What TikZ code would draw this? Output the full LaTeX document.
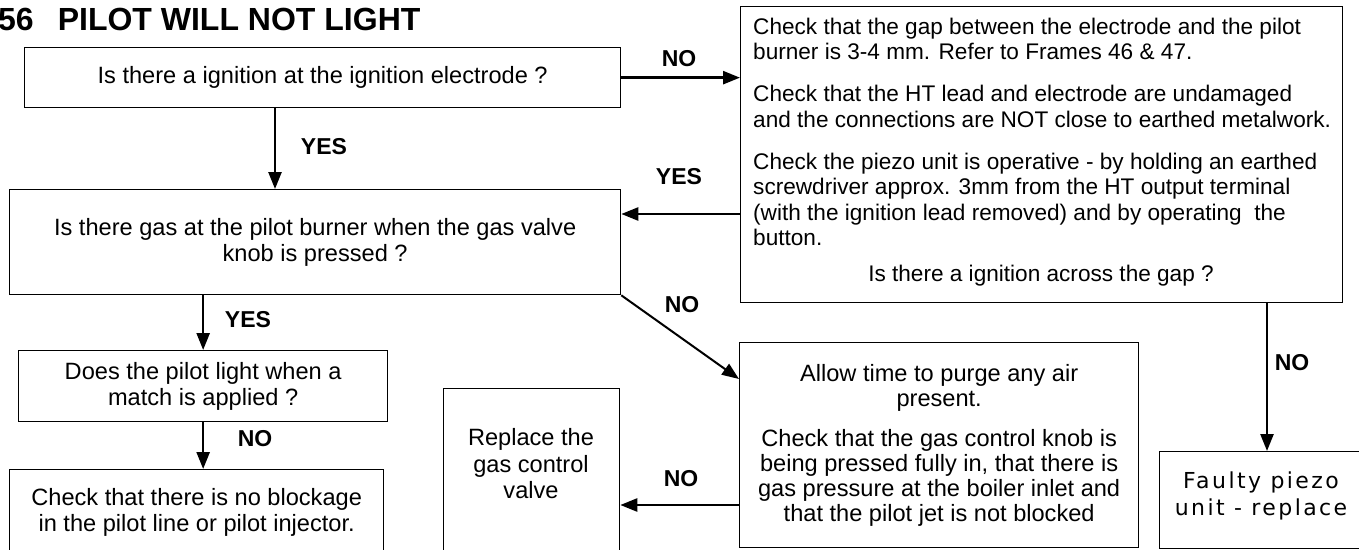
\documentclass[tikz,border=0pt]{standalone}
\usepackage{fontspec}
\setmainfont{Liberation Sans}
\newfontfamily\faultyfont[LetterSpace=11]{DejaVu Sans}
\usetikzlibrary{arrows.meta}
\begin{document}
\begin{tikzpicture}[x=1pt,y=-1pt,
  box/.style={draw=black, line width=1.3pt, anchor=north west, inner sep=0pt, align=center,
    font=\fontsize{23.6pt}{26pt}\selectfont},
  txt/.style={inner sep=0pt, align=center, font=\fontsize{23.6pt}{26pt}\selectfont},
  lbl/.style={inner sep=0pt, font=\bfseries\fontsize{23pt}{26pt}\selectfont},
  arr/.style={line width=2.5pt, -{Triangle[length=17pt,width=13pt]}}]
\useasboundingbox (0,0) rectangle (1359,549);
\clip (0,0) rectangle (1359,549);

% title
\node[anchor=base west, inner sep=0pt, font=\bfseries\fontsize{32pt}{36pt}\selectfont] (title) at (-2,30) {56\hspace{24pt}PILOT WILL NOT LIGHT};

% boxes
\node[box, minimum width=596pt, minimum height=60pt] (b1) at (24,47) {Is there a ignition at the ignition electrode ?};
\node[box, minimum width=611pt, minimum height=105pt] (b2) at (9,189) {Is there gas at the pilot burner when the gas valve\\knob is pressed ?};
\node[box, minimum width=369pt, minimum height=71pt] (b3) at (18,350) {Does the pilot light when a\\match is applied ?};
\node[box, minimum width=374pt, minimum height=86pt] (b4) at (9,469) {Check that there is no blockage\\in the pilot line or pilot injector.};
\node[box, minimum width=176pt, minimum height=180pt] (rp) at (443,388) {};
\node[txt, font=\fontsize{23.6pt}{26.5pt}\selectfont] (rptxt) at (531,464) {Replace the\\gas control\\valve};
\node[box, minimum width=399pt, minimum height=205pt, font=\fontsize{23.6pt}{25pt}\selectfont] (al) at (739,342) {Allow time to purge any air\\present.\\[15pt]Check that the gas control knob is\\being pressed fully in, that there is\\gas pressure at the boiler inlet and\\that the pilot jet is not blocked};
\node[box, minimum width=602pt, minimum height=296pt] (rb) at (740,6) {};
\node[txt, anchor=north west, align=left, font=\fontsize{22.6pt}{25.5pt}\selectfont] (rbtxt) at (753,17.5) {Check that the gap between the electrode and the pilot\\burner is 3-4 mm. Refer to Frames 46 \& 47.\\[16.5pt]Check that the HT lead and electrode are undamaged\\and the connections are NOT close to earthed metalwork.\\[16.5pt]Check the piezo unit is operative - by holding an earthed\\screwdriver approx. 3mm from the HT output terminal\\(with the ignition lead removed) and by operating\ \ the\\button.};
\node[txt, font=\fontsize{22.6pt}{25.5pt}\selectfont] (rbq) at (1041,276) {Is there a ignition across the gap ?};
\node[box, minimum width=215pt, minimum height=97pt] (fp) at (1159,451) {};
\node[txt, font=\faultyfont\fontsize{22pt}{27pt}\selectfont] (fptxt) at (1261,496) {Faulty piezo\\unit - replace};

% helper coordinates
\coordinate (c1) at (275,0);
\coordinate (c2) at (0,214);
\coordinate (c3) at (0,379);
\coordinate (c6) at (0,505);
\coordinate (c7) at (1267,0);

% connectors
\draw[arr] (b1.east) -- (b1.east -| rb.west);
\draw[arr] (b1.south -| c1) -- (b2.north -| c1);
\draw[arr] (rb.west |- c2) -- (b2.east |- c2);
\draw[arr, line width=2pt] (b2.south east) -- (al.west |- c3);
\draw[arr] (b2.south -| b3.north) -- (b3.north);
\draw[arr] (b3.south) -- (b4.north -| b3.south);
\draw[arr] (al.west |- c6) -- (rp.east |- c6);
\draw[arr] (rb.south -| c7) -- (fp.north -| c7);

% labels
\node[lbl] (l1) at (679,59) {NO};
\node[lbl] (l2) at (324,147) {YES};
\node[lbl] (l3) at (679,177) {YES};
\node[lbl] (l4) at (682,305) {NO};
\node[lbl] (l5) at (248,320) {YES};
\node[lbl] (l6) at (255,439) {NO};
\node[lbl] (l7) at (681,479) {NO};
\node[lbl] (l8) at (1292,363) {NO};
\end{tikzpicture}
\end{document}
